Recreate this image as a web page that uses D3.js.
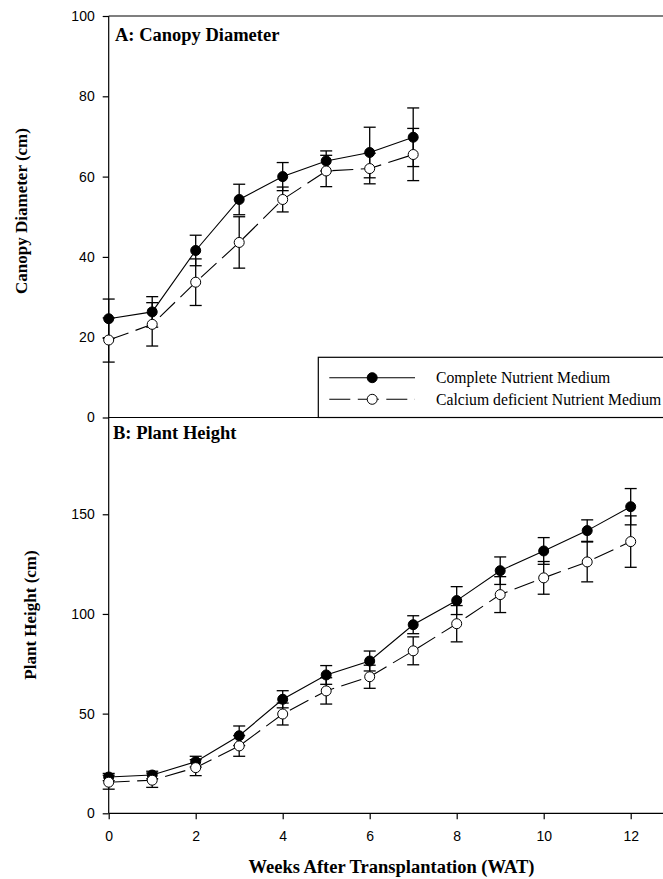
<!DOCTYPE html>
<html>
<head>
<meta charset="utf-8">
<script src="https://cdn.jsdelivr.net/npm/d3@7"></script>
<style>
  html, body { margin: 0; padding: 0; background: #fff; }
  svg { display: block; }
</style>
</head>
<body>
<svg id="chart" width="663" height="879"></svg>
<script>
// Weeks after transplantation
const weeksA = [0, 1, 2, 3, 4, 5, 6, 7];
const weeksB = [0, 1, 2, 3, 4, 5, 6, 7, 8, 9, 10, 11, 12];

// Panel A: canopy diameter (cm), mean and error
const canopyComplete    = [24.6, 26.3, 41.6, 54.3, 60.0, 63.9, 66.0, 69.8];
const canopyCompleteErr = [4.9, 3.8, 3.8, 3.8, 3.5, 2.5, 6.3, 7.3];
const canopyCalcium     = [19.3, 23.2, 33.7, 43.6, 54.3, 61.4, 62.0, 65.5];
const canopyCalciumErr  = [5.5, 5.4, 5.8, 6.4, 3.1, 3.9, 3.8, 6.5];

// Panel B: plant height (cm), mean and error
const heightComplete    = [18.2, 19.2, 25.9, 38.9, 57.2, 69.4, 76.4, 94.6, 106.7, 121.7, 131.6, 141.8, 153.8];
const heightCompleteErr = [1.8, 1.9, 2.7, 4.9, 4.3, 4.7, 5.0, 4.5, 7.0, 6.9, 6.7, 5.4, 9.1];
const heightCalcium     = [15.6, 16.6, 22.9, 33.8, 49.8, 61.4, 68.5, 81.5, 95.1, 109.7, 118.1, 126.1, 136.3];
const heightCalciumErr  = [3.5, 3.6, 4.0, 5.2, 5.5, 6.6, 5.8, 7.0, 9.1, 9.0, 8.2, 10.0, 12.9];

// Axis ticks
const xTicks = [0, 2, 4, 6, 8, 10, 12];
const yTicksA = [0, 20, 40, 60, 80, 100];
const yTicksB = [0, 50, 100, 150];

const seriesNames = ["Complete Nutrient Medium", "Calcium deficient Nutrient Medium"];

const SERIF = "'Liberation Serif', 'Times New Roman', Times, serif";
const SANS = "'Liberation Sans', Arial, Helvetica, sans-serif";
const DASH = "21,7.5";

const svg = d3.select("#chart");

const x = d3.scaleLinear().domain([0, 13]).range([108.7, 108.7 + 43.5 * 13]);
const yA = d3.scaleLinear().domain([0, 100]).range([417.5, 16]);
const yB = d3.scaleLinear().domain([0, 200]).range([813.3, 414.6]);

const W = 663;

function styleAxis(g) {
  g.select(".domain").remove();
  g.selectAll(".tick line").attr("stroke", "#000").attr("stroke-width", 1.2);
  g.selectAll(".tick text")
    .attr("fill", "#000")
    .style("font-family", SANS)
    .style("font-size", "14px");
}

// y axes
svg.append("g")
  .attr("transform", `translate(${x(0)},0)`)
  .call(d3.axisLeft(yA).tickValues(yTicksA).tickSize(6).tickPadding(8).tickFormat(d3.format("d")))
  .call(styleAxis);

svg.append("g")
  .attr("transform", `translate(${x(0)},0)`)
  .call(d3.axisLeft(yB).tickValues(yTicksB).tickSize(6).tickPadding(8).tickFormat(d3.format("d")))
  .call(styleAxis);

// x axis at bottom
svg.append("g")
  .attr("transform", `translate(0,${yB(0)})`)
  .call(d3.axisBottom(x).tickValues(xTicks).tickSize(6).tickPadding(12).tickFormat(d3.format("d")))
  .call(styleAxis);

// frame lines
const frame = svg.append("g").attr("stroke", "#000").attr("stroke-width", 1.2);
frame.append("line").attr("x1", x(0)).attr("x2", x(0)).attr("y1", yA(100)).attr("y2", yB(0));
frame.append("line").attr("x1", x(0)).attr("x2", W).attr("y1", yA(100)).attr("y2", yA(100));
frame.append("line").attr("x1", x(0)).attr("x2", W).attr("y1", yA(0)).attr("y2", yA(0));
frame.append("line").attr("x1", x(0)).attr("x2", W).attr("y1", yB(0)).attr("y2", yB(0));

function drawPanel(weeks, y, series) {
  const g = svg.append("g");
  // connecting lines
  series.forEach(s => {
    const line = d3.line().x((d, i) => x(weeks[i])).y(d => y(d));
    g.append("path")
      .attr("d", line(s.values))
      .attr("fill", "none")
      .attr("stroke", "#000")
      .attr("stroke-width", 1.1)
      .attr("stroke-dasharray", s.dash ? DASH : null);
  });
  // error bars
  series.forEach(s => {
    const eb = g.append("g").attr("stroke", "#000").attr("stroke-width", 1.3);
    s.values.forEach((v, i) => {
      const cx = x(weeks[i]);
      const lo = y(v - s.err[i]), hi = y(v + s.err[i]);
      eb.append("line").attr("x1", cx).attr("x2", cx).attr("y1", lo).attr("y2", hi);
      eb.append("line").attr("x1", cx - 6).attr("x2", cx + 6).attr("y1", lo).attr("y2", lo);
      eb.append("line").attr("x1", cx - 6).attr("x2", cx + 6).attr("y1", hi).attr("y2", hi);
    });
  });
  // markers
  series.forEach(s => {
    g.append("g").selectAll("circle")
      .data(s.values)
      .join("circle")
      .attr("cx", (d, i) => x(weeks[i]))
      .attr("cy", d => y(d))
      .attr("r", 5)
      .attr("fill", s.fill)
      .attr("stroke", "#000")
      .attr("stroke-width", 1);
  });
}

drawPanel(weeksA, yA, [
  { values: canopyComplete, err: canopyCompleteErr, fill: "#000", dash: false },
  { values: canopyCalcium, err: canopyCalciumErr, fill: "#fff", dash: true }
]);

drawPanel(weeksB, yB, [
  { values: heightComplete, err: heightCompleteErr, fill: "#000", dash: false },
  { values: heightCalcium, err: heightCalciumErr, fill: "#fff", dash: true }
]);

// panel labels
svg.append("text").attr("x", 115).attr("y", 40.7)
  .style("font-family", SERIF).style("font-weight", "bold").style("font-size", "18.5px")
  .text("A: Canopy Diameter");
svg.append("text").attr("x", 113).attr("y", 439.3)
  .style("font-family", SERIF).style("font-weight", "bold").style("font-size", "18.5px")
  .text("B: Plant Height");

// axis titles
svg.append("text")
  .attr("transform", "translate(26.7,211) rotate(-90)")
  .attr("text-anchor", "middle")
  .style("font-family", SERIF).style("font-weight", "bold").style("font-size", "17px")
  .text("Canopy Diameter (cm)");
svg.append("text")
  .attr("transform", "translate(36,615) rotate(-90)")
  .attr("text-anchor", "middle")
  .style("font-family", SERIF).style("font-weight", "bold").style("font-size", "17px")
  .text("Plant Height (cm)");
svg.append("text")
  .attr("x", 391.5).attr("y", 873)
  .attr("text-anchor", "middle")
  .style("font-family", SERIF).style("font-weight", "bold").style("font-size", "18.5px")
  .text("Weeks After Transplantation (WAT)");

// legend
const leg = svg.append("g");
leg.append("rect")
  .attr("x", 318.3).attr("y", 357.3)
  .attr("width", W - 318.3 + 5).attr("height", yA(0) - 357.3)
  .attr("fill", "#fff").attr("stroke", "#000").attr("stroke-width", 1.2);
const legRows = [
  { y: 377.7, fill: "#000", dash: false },
  { y: 399.3, fill: "#fff", dash: true }
];
legRows.forEach((r, i) => {
  leg.append("line")
    .attr("x1", 329.3).attr("x2", 415).attr("y1", r.y).attr("y2", r.y)
    .attr("stroke", "#000").attr("stroke-width", 1.1)
    .attr("stroke-dasharray", r.dash ? DASH : null);
  leg.append("circle")
    .attr("cx", 372.2).attr("cy", r.y).attr("r", 5)
    .attr("fill", r.fill).attr("stroke", "#000").attr("stroke-width", 1);
  leg.append("text")
    .attr("x", 436).attr("y", r.y + 5.5)
    .style("font-family", SERIF).style("font-size", "15.7px")
    .text(seriesNames[i]);
});
</script>
</body>
</html>
